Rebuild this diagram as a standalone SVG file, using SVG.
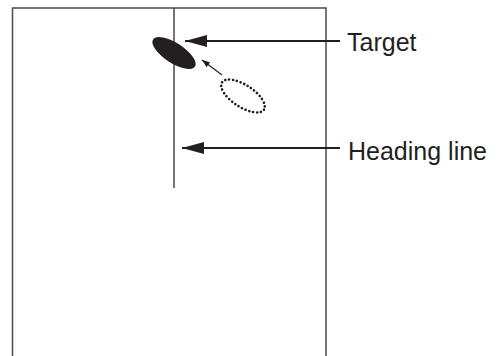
<svg xmlns="http://www.w3.org/2000/svg" width="501" height="356" viewBox="0 0 501 356">
<style>
.frame{fill:none;stroke:#4a4a4a;stroke-width:1.5}
.ln{stroke:#231f20;stroke-width:2;fill:none}
.lbl{font-family:"Liberation Sans",Arial,sans-serif;font-size:25px;fill:#231f20}
</style>
<defs>
<marker id="big" viewBox="0 0 22 12" refX="22" refY="6" markerWidth="22" markerHeight="12" markerUnits="userSpaceOnUse" orient="auto">
<path d="M22,6 L0,0 L0,12 Z" fill="#231f20"/>
</marker>
<marker id="small" viewBox="0 0 8 6" refX="8" refY="3" markerWidth="8" markerHeight="6" markerUnits="userSpaceOnUse" orient="auto">
<path d="M8,3 L0,0 L0,6 Z" fill="#231f20"/>
</marker>
</defs>
<g id="frame">
<path class="frame" d="M12.5,356 V8 H326 V356"/>
<line class="frame" x1="174" y1="8" x2="174" y2="188"/>
</g>
<g id="target">
<ellipse cx="174" cy="53" rx="25" ry="10" transform="rotate(33 174 53)" fill="#231f20"/>
<text class="lbl" x="347" y="51">Target</text>
</g>
<g id="previous">
<ellipse cx="243" cy="96" rx="25" ry="11" transform="rotate(33 243 96)" fill="none" stroke="#231f20" stroke-width="2.6" stroke-dasharray="0.1 3.8" stroke-linecap="round"/>
</g>
<g id="heading">
<text class="lbl" x="348" y="160">Heading line</text>
</g>
<g id="connectors">
<line class="ln" x1="340" y1="41" x2="185" y2="41" marker-end="url(#big)"/>
<line class="ln" x1="340" y1="148" x2="182" y2="148" marker-end="url(#big)"/>
<line x1="222" y1="75" x2="202" y2="60" stroke="#231f20" stroke-width="1.2" marker-end="url(#small)"/>
</g>
</svg>
